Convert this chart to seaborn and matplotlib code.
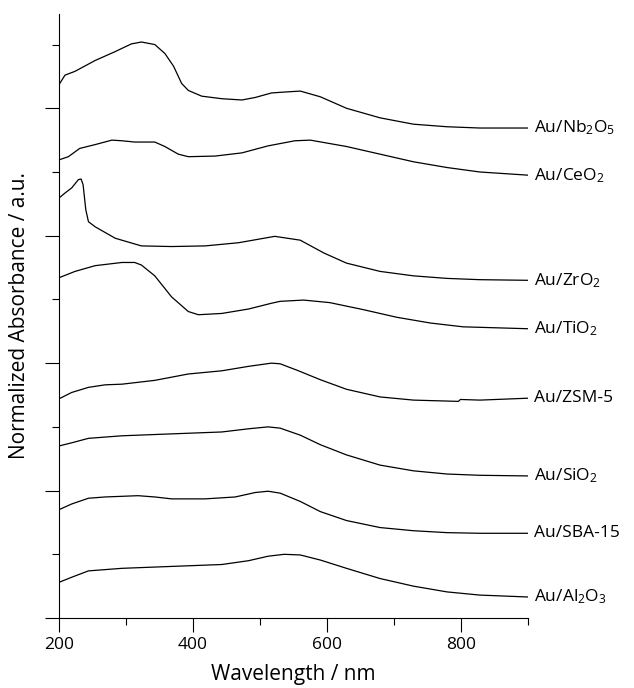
import matplotlib
matplotlib.use('Agg')
import matplotlib.pyplot as plt
from matplotlib.ticker import MultipleLocator, NullFormatter
import seaborn as sns

###############################################################################
# Data (normalized + offset units)
###############################################################################

wl_nb = [200, 209, 224, 254, 284, 308, 323, 343, 358, 371, 383, 393, 413, 443,
         473, 493, 517, 530, 560, 590, 629, 679, 729, 779, 828, 900]
ab_nb = [8.37, 8.52, 8.58, 8.75, 8.89, 9.01, 9.04, 9.00, 8.86, 8.66, 8.39, 8.28,
         8.19, 8.15, 8.13, 8.17, 8.24, 8.25, 8.27, 8.18, 8.00, 7.85, 7.75, 7.71,
         7.69, 7.69]

wl_ce = [200, 214, 231, 254, 279, 294, 313, 343, 358, 378, 393, 433, 473, 512,
         552, 575, 629, 679, 729, 779, 828, 900]
ab_ce = [7.19, 7.24, 7.37, 7.43, 7.50, 7.49, 7.47, 7.47, 7.40, 7.28, 7.24, 7.25,
         7.30, 7.41, 7.49, 7.50, 7.40, 7.28, 7.16, 7.07, 7.00, 6.95]

wl_zr = [200, 209, 219, 229, 233, 236, 240, 244, 254, 284, 323, 368, 418, 468,
         522, 560, 595, 629, 679, 729, 779, 828, 900]
ab_zr = [6.59, 6.67, 6.75, 6.88, 6.89, 6.80, 6.41, 6.22, 6.14, 5.96, 5.84, 5.83,
         5.84, 5.89, 5.99, 5.93, 5.73, 5.57, 5.44, 5.37, 5.33, 5.31, 5.30]

wl_ti = [200, 224, 254, 294, 313, 323, 343, 368, 393, 408, 443, 483, 517, 530,
         565, 604, 654, 704, 754, 803, 900]
ab_ti = [5.34, 5.44, 5.53, 5.58, 5.58, 5.54, 5.37, 5.04, 4.81, 4.76, 4.78, 4.85,
         4.94, 4.97, 4.99, 4.95, 4.84, 4.72, 4.63, 4.57, 4.54]

wl_zsm = [200, 219, 244, 269, 294, 343, 393, 443, 483, 517, 530, 555, 590, 629,
          679, 729, 796, 799, 828, 900]
ab_zsm = [3.44, 3.54, 3.62, 3.66, 3.67, 3.73, 3.83, 3.88, 3.95, 4.00, 3.99, 3.89,
          3.74, 3.59, 3.47, 3.42, 3.40, 3.43, 3.42, 3.45]

wl_si = [200, 219, 244, 294, 343, 393, 443, 483, 512, 530, 560, 590, 629, 679,
         729, 779, 828, 900]
ab_si = [2.70, 2.75, 2.82, 2.86, 2.88, 2.90, 2.92, 2.97, 3.00, 2.98, 2.87, 2.72,
         2.56, 2.40, 2.31, 2.26, 2.24, 2.23]

wl_sba = [200, 219, 244, 269, 318, 343, 368, 418, 463, 493, 512, 530, 560, 590,
          629, 679, 729, 779, 828, 900]
ab_sba = [1.70, 1.79, 1.88, 1.90, 1.92, 1.90, 1.87, 1.87, 1.90, 1.97, 1.99, 1.96,
          1.83, 1.67, 1.53, 1.42, 1.37, 1.34, 1.33, 1.33]

wl_al = [200, 219, 244, 294, 343, 393, 443, 483, 512, 536, 560, 590, 629, 679,
         729, 779, 828, 900]
ab_al = [0.56, 0.64, 0.74, 0.78, 0.80, 0.82, 0.84, 0.90, 0.97, 1.00, 0.99, 0.91,
         0.78, 0.62, 0.50, 0.41, 0.36, 0.33]

labels = ['Au/Nb$_2$O$_5$', 'Au/CeO$_2$', 'Au/ZrO$_2$', 'Au/TiO$_2$',
          'Au/ZSM-5', 'Au/SiO$_2$', 'Au/SBA-15', 'Au/Al$_2$O$_3$']

series = [(wl_nb, ab_nb), (wl_ce, ab_ce), (wl_zr, ab_zr), (wl_ti, ab_ti),
          (wl_zsm, ab_zsm), (wl_si, ab_si), (wl_sba, ab_sba), (wl_al, ab_al)]

###############################################################################
# Plot
###############################################################################

sns.set_style('ticks')
plt.rcParams['font.family'] = ['Open Sans', 'DejaVu Sans']
plt.rcParams['mathtext.default'] = 'regular'
plt.rcParams['text.color'] = 'black'
plt.rcParams['axes.labelcolor'] = 'black'

fig = plt.figure(figsize=(6.34, 6.88), dpi=100)
ax = fig.add_axes([0.093, 0.1017, 0.740, 0.878])

for (wl, ab), lab in zip(series, labels):
    sns.lineplot(x=wl, y=ab, color='black', linewidth=0.9, ax=ax,
                 estimator=None, sort=False)
    ax.annotate(lab, xy=(wl[-1], ab[-1]), xytext=(4, 0),
                textcoords='offset points', va='center', ha='left',
                fontsize=12.5, color='black', annotation_clip=False)

ax.set_xlim(200, 900)
ax.set_ylim(0, 9.48)

ax.xaxis.set_major_locator(MultipleLocator(200))
ax.xaxis.set_minor_locator(MultipleLocator(100))
ax.yaxis.set_major_locator(MultipleLocator(2))
ax.yaxis.set_minor_locator(MultipleLocator(1))
ax.yaxis.set_major_formatter(NullFormatter())

ax.tick_params(which='major', length=10, width=0.8, direction='out',
               labelsize=12.5, colors='black')
ax.tick_params(which='minor', length=5, width=0.8, direction='out',
               colors='black')

for side in ['top', 'right']:
    ax.spines[side].set_visible(False)
for side in ['left', 'bottom']:
    ax.spines[side].set_linewidth(0.8)
    ax.spines[side].set_color('black')

ax.set_xlabel('Wavelength / nm', fontsize=15, labelpad=8)
ax.set_ylabel('Normalized Absorbance / a.u.', fontsize=15, labelpad=7)

plt.savefig('out.png', dpi=100)
